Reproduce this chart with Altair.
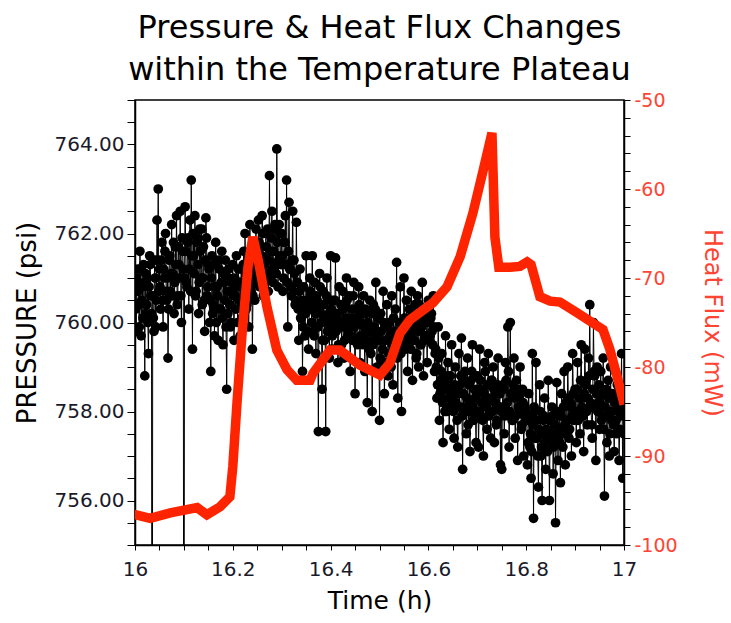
import altair as alt
import pandas as pd

# Pressure samples (psi), one every 0.0025 h from 16.000 h to 17.000 h
pressure = [
    # 16.00 - 16.0475
    760.9, 759.8, 761.2, 760.4, 761.6, 759.7, 760.8, 761.3, 758.8, 760.2,
    761.0, 759.3, 761.5, 760.6, 745.0, 760.1, 761.4, 759.9, 762.3, 763.0,
    # 16.05 - 16.0975
    761.2, 760.3, 761.8, 759.9, 761.0, 762.0, 760.5, 759.2, 761.4, 760.7,
    762.2, 761.1, 760.2, 761.7, 762.4, 760.6, 761.3, 762.5, 760.0, 761.6,
    # 16.10 - 16.1475
    745.0, 762.6, 760.9, 761.8, 760.3, 762.3, 763.2, 759.4, 761.5, 762.4,
    760.7, 761.9, 760.2, 762.1, 761.0, 760.4, 761.7, 759.8, 762.35, 760.6,
    # 16.15 - 16.1975
    761.3, 760.0, 758.9, 761.5, 760.4, 759.7, 761.8, 760.8, 759.6, 761.2,
    760.3, 761.6, 759.5, 760.9, 761.4, 758.5, 760.2, 761.0, 759.9, 760.7,
    # 16.20 - 16.2475
    761.3, 759.6, 760.6, 761.5, 760.0, 760.9, 759.7, 761.2, 760.4, 761.6,
    762.0, 760.3, 761.1, 759.9, 762.2, 760.7, 759.4, 761.8, 760.5, 762.1,
    # 16.25 - 16.2975
    761.0, 762.3, 760.8, 761.7, 762.4, 760.6, 761.4, 762.0, 761.1, 760.7,
    763.3, 761.6, 762.5, 760.9, 762.1, 761.3, 763.9, 760.8, 762.2, 761.5,
    # 16.30 - 16.3475
    762.0, 760.7, 761.8, 762.4, 763.2, 759.9, 762.7, 761.2, 760.6, 762.5,
    761.4, 760.4, 762.25, 760.9, 759.6, 761.2, 760.1, 758.9, 760.8, 759.7,
    # 16.35 - 16.3975
    761.5, 760.3, 759.4, 761.0, 760.6, 761.5, 759.8, 760.9, 759.3, 760.5,
    757.55, 761.1, 760.2, 758.5, 760.7, 759.6, 757.55, 761.0, 760.0, 759.2,
    # 16.40 - 16.4475
    761.5, 759.4, 760.5, 759.9, 761.45, 760.2, 759.1, 760.8, 760.0, 759.5,
    760.7, 759.2, 760.4, 761.0, 759.7, 760.6, 758.9, 760.1, 759.6, 760.9,
    # 16.45 - 16.4975
    758.4, 760.3, 759.5, 760.8, 759.1, 760.0, 759.7, 760.6, 758.9, 760.2,
    758.2, 759.8, 760.5, 759.3, 758.0, 760.4, 759.6, 760.9, 759.0, 760.1,
    # 16.50 - 16.5475
    757.8, 760.2, 759.1, 760.7, 758.4, 759.6, 760.4, 758.8, 760.0, 759.3,
    760.6, 758.6, 759.8, 760.3, 761.35, 758.3, 759.5, 760.8, 758.0, 759.9,
    # 16.55 - 16.5975
    761.0, 759.4, 760.5, 758.9, 760.1, 759.6, 760.7, 758.7, 759.8, 760.4,
    759.2, 760.6, 759.0, 760.2, 759.5, 760.9, 758.8, 759.7, 760.3, 759.1,
    # 16.60 - 16.6475
    760.5, 759.6, 760.1, 759.8, 760.6, 758.9, 759.4, 758.3, 759.9, 757.8,
    758.7, 759.3, 757.3, 758.5, 759.7, 758.0, 759.1, 757.6, 758.8, 759.5,
    # 16.65 - 16.6975
    758.2, 757.4, 759.0, 758.4, 757.2, 759.3, 758.6, 759.65, 756.7, 758.1,
    758.9, 757.5, 759.2, 758.0, 757.1, 758.7, 759.5, 757.8, 758.3, 757.3,
    # 16.70 - 16.7475
    758.8, 757.2, 759.4, 757.9, 758.5, 757.0, 759.1, 758.2, 757.6, 759.3,
    758.0, 757.4, 758.7, 759.0, 757.3, 758.4, 757.8, 759.2, 758.1, 756.8,
    # 16.75 - 16.7975
    756.7, 758.6, 757.5, 759.1, 758.0, 759.9, 757.2, 760.0, 758.4, 757.8,
    759.2, 757.4, 758.7, 756.9, 758.3, 759.0, 757.6, 758.5, 757.0, 758.1,
    # 16.80 - 16.8475
    757.9, 756.8, 758.4, 757.2, 756.5, 759.3, 755.6, 758.0, 759.1, 757.4,
    756.3, 758.6, 757.0, 756.0, 757.8, 758.3, 756.7, 757.5, 758.7, 756.0,
    # 16.85 - 16.8975
    757.3, 758.1, 756.6, 757.7, 755.5, 758.65, 756.9, 757.9, 756.4, 758.4,
    757.2, 758.9, 756.8, 757.6, 759.0, 757.4, 758.2, 757.0, 759.3, 757.8,
    # 16.90 - 16.9475
    758.5, 757.3, 759.1, 758.0, 757.5, 759.5, 758.3, 757.1, 759.4, 758.7,
    757.7, 759.2, 760.4, 758.1, 757.4, 760.0, 758.8, 756.9, 759.0, 758.2,
    # 16.95 - 16.9975
    757.6, 758.9, 757.9, 759.2, 756.1, 758.4, 757.3, 758.7, 757.0, 759.0,
    757.8, 758.3, 757.1, 758.9, 757.5, 758.1, 756.9, 758.6, 759.3, 756.5,
    # 17.00
    757.5,
]
p_start = 16.0
p_step = 0.0025

# Interleaved pressure samples (psi), one every 0.0025 h from 16.00125 h
pressure_mid = [
    760.3, 761.0, 760.7, 759.9, 761.2, 760.5, 760.1, 760.9, 761.1, 760.4,
    760.0, 760.8, 761.3, 760.2, 760.6, 759.8, 761.0, 760.5, 761.4, 760.7,
    760.8, 761.4, 760.5, 761.2, 761.6, 760.7, 761.0, 760.3, 761.5, 761.1,
    760.6, 761.8, 760.9, 761.3, 760.4, 761.7, 761.0, 760.6, 761.9, 761.2,
    761.0, 761.6, 760.8, 761.9, 761.2, 760.7, 761.5, 762.0, 761.1, 760.6,
    761.8, 761.3, 760.9, 761.6, 762.1, 761.0, 760.5, 761.4, 761.9, 760.8,
    761.2, 760.5, 761.0, 760.2, 761.3, 760.8, 760.0, 760.6, 761.4, 760.3,
    760.9, 760.1, 761.1, 760.5, 759.9, 760.7, 761.2, 760.4, 760.0, 760.9,
    760.6, 761.0, 760.3, 760.8, 761.2, 760.5, 760.9, 760.1, 761.3, 760.7,
    761.1, 760.4, 761.5, 760.8, 761.0, 761.6, 760.6, 761.2, 761.7, 760.9,
    761.2, 761.8, 761.0, 761.5, 762.0, 761.3, 760.9, 761.7, 762.1, 761.4,
    761.0, 761.9, 761.2, 761.6, 762.2, 761.1, 761.8, 761.4, 762.0, 761.3,
    761.5, 761.0, 761.8, 761.3, 760.9, 761.6, 761.2, 760.8, 761.4, 760.7,
    761.1, 760.5, 760.9, 760.3, 760.7, 760.1, 760.5, 759.9, 760.4, 760.2,
    760.5, 759.8, 760.3, 760.7, 760.0, 760.4, 759.7, 760.2, 760.6, 759.9,
    760.3, 760.8, 760.0, 759.6, 760.4, 760.1, 760.6, 759.8, 760.2, 760.5,
    760.3, 759.7, 760.1, 760.5, 759.8, 760.2, 759.5, 760.0, 760.4, 759.9,
    760.3, 759.6, 760.1, 760.5, 759.8, 760.0, 759.7, 760.3, 760.6, 759.9,
    760.1, 759.6, 760.0, 760.4, 759.7, 760.2, 759.5, 759.9, 760.3, 759.6,
    760.0, 759.4, 759.8, 760.2, 759.5, 759.9, 760.3, 759.7, 760.1, 759.6,
    759.2, 759.8, 759.4, 760.0, 759.1, 759.6, 759.9, 759.3, 759.7, 759.0,
    759.5, 760.1, 759.4, 759.8, 759.2, 759.6, 760.0, 759.3, 759.7, 759.5,
    760.1, 759.5, 760.0, 759.7, 760.3, 759.4, 759.9, 760.2, 759.6, 760.0,
    759.3, 759.8, 760.4, 759.5, 759.9, 760.1, 759.6, 760.2, 759.7, 760.0,
    760.0, 759.7, 760.2, 759.5, 759.9, 759.3, 759.0, 758.6, 759.2, 758.4,
    758.9, 758.2, 758.7, 758.0, 758.5, 758.8, 758.3, 758.1, 758.6, 758.4,
    758.0, 758.6, 758.2, 757.8, 758.5, 758.1, 758.8, 757.9, 758.4, 758.7,
    758.0, 758.3, 757.7, 758.6, 758.2, 758.9, 758.1, 758.5, 757.9, 758.4,
    758.5, 758.0, 758.7, 758.2, 757.8, 758.4, 758.9, 758.1, 758.6, 757.9,
    758.3, 758.7, 758.0, 758.5, 758.2, 757.7, 758.6, 758.1, 758.4, 758.0,
    758.1, 758.5, 757.9, 758.7, 758.2, 758.9, 758.0, 758.4, 757.8, 758.6,
    758.3, 757.9, 758.5, 758.1, 758.0, 758.4, 757.7, 758.2, 757.9, 758.0,
    757.8, 757.3, 757.9, 757.5, 757.1, 757.7, 758.1, 757.4, 757.8, 757.0,
    757.6, 758.0, 757.2, 757.5, 757.9, 757.3, 757.6, 757.1, 757.8, 757.4,
    757.5, 757.9, 757.2, 757.7, 757.4, 758.0, 757.6, 757.3, 757.9, 757.5,
    758.1, 757.7, 758.2, 757.8, 758.3, 757.6, 758.1, 757.9, 758.4, 758.0,
    758.0, 758.5, 757.8, 758.3, 758.7, 758.1, 757.9, 758.4, 758.6, 758.0,
    758.3, 758.8, 758.2, 757.7, 758.5, 758.9, 758.1, 758.4, 758.0, 758.6,
    758.2, 757.8, 758.4, 757.6, 758.1, 758.5, 757.9, 758.3, 757.5, 758.0,
    758.4, 757.7, 758.2, 757.8, 758.6, 758.0, 757.6, 758.3, 757.9, 758.1,
]
pm_start = 16.00125

p_time = [round(p_start + p_step * i, 5) for i in range(len(pressure))]
pm_time = [round(pm_start + p_step * i, 5) for i in range(len(pressure_mid))]

# Heat flux (mW)
flux_time = [
    16.000, 16.031, 16.072, 16.127, 16.147, 16.174, 16.194, 16.200, 16.209,
    16.219, 16.231, 16.241, 16.252, 16.270, 16.290, 16.311, 16.331, 16.358,
    16.364, 16.399, 16.419, 16.460, 16.501, 16.521, 16.542, 16.562, 16.609,
    16.638, 16.665, 16.691, 16.712, 16.730, 16.736, 16.744, 16.767, 16.787,
    16.802, 16.810, 16.828, 16.849, 16.869, 16.904, 16.957, 16.971, 16.986,
    16.998,
]
flux = [
    -96.6, -97.0, -96.4, -95.8, -96.6, -95.7, -94.6, -91.2, -83.7,
    -76.2, -68.8, -65.4, -68.0, -73.3, -78.1, -80.3, -81.5, -81.5,
    -80.7, -78.1, -78.1, -79.8, -80.9, -79.6, -76.2, -74.7, -72.8,
    -71.0, -67.6, -62.7, -57.9, -53.7, -65.4, -68.8, -68.8, -68.7,
    -68.2, -68.5, -72.1, -72.6, -72.7, -73.9, -75.8, -78.0, -81.1,
    -83.7,
]

x_ticks = [round(16 + 0.05 * i, 2) for i in range(21)]
p_ticks = [755 + 0.5 * i for i in range(21)]
f_ticks = [-100 + 2 * i for i in range(26)]

dfp = (
    pd.concat(
        [
            pd.DataFrame({"t": p_time, "p": pressure}),
            pd.DataFrame({"t": pm_time, "p": pressure_mid}),
        ]
    )
    .sort_values("t")
    .reset_index(drop=True)
)
dff = pd.DataFrame({"t": flux_time, "f": flux})

FONT = "DejaVu Sans"
RED = "#FF2400"
LABEL_RED = "#FF4433"

x_enc = alt.X(
    "t:Q",
    scale=alt.Scale(domain=[16, 17], nice=False, zero=False),
    axis=alt.Axis(
        title="Time (h)",
        values=x_ticks,
        labelExpr="abs(datum.value*5 - round(datum.value*5)) < 0.001 ? toString(round(datum.value*10)/10) : ''",
        tickSize=5,
        labelPadding=9,
        titlePadding=9,
        titleFontSize=25,
        labelFontSize=20,
        labelFlush=False,
        labelOverlap=False,
        grid=False,
    ),
)

y_p = alt.Y(
    "p:Q",
    scale=alt.Scale(domain=[755, 765], nice=False, zero=False),
    axis=alt.Axis(
        title="PRESSURE (psi)",
        values=p_ticks,
        labelExpr="datum.value % 2 == 0 ? format(datum.value, '.2f') : ''",
        tickSize=8,
        labelPadding=3,
        titlePadding=14,
        titleFontSize=26,
        labelFontSize=20,
        labelFlush=False,
        labelOverlap=False,
        grid=False,
    ),
)

press_line = alt.Chart(dfp).mark_line(color="black", strokeWidth=1, clip=True).encode(
    x=x_enc, y=y_p
)
press_pts = alt.Chart(dfp).mark_circle(color="black", size=95, opacity=1, clip=True).encode(
    x=x_enc, y=y_p
)

flux_line = alt.Chart(dff).mark_line(
    color=RED, strokeWidth=9.5, clip=True, strokeJoin="miter", strokeCap="square"
).encode(
    x=x_enc,
    y=alt.Y(
        "f:Q",
        scale=alt.Scale(domain=[-100, -50], nice=False, zero=False),
        axis=alt.Axis(
            orient="right",
            title="Heat Flux (mW)",
            values=f_ticks,
            labelExpr="datum.value % 10 == 0 ? toString(datum.value) : ''",
            tickSize=6,
            labelPadding=4,
            titlePadding=22,
            titleFontSize=24,
            labelFontSize=19,
            labelColor=LABEL_RED,
            titleColor=LABEL_RED,
            labelFlush=False,
            labelOverlap=False,
            grid=False,
        ),
    ),
)

chart = (
    alt.layer(alt.layer(press_line, press_pts), flux_line)
    .resolve_scale(y="independent")
    .properties(
        width=489,
        height=445,
        title=alt.TitleParams(
            ["Pressure & Heat Flux Changes", "within the Temperature Plateau"],
            fontSize=32,
            font=FONT,
            fontWeight="normal",
            color="black",
            anchor="middle",
            offset=3,
            lineHeight=42,
        ),
        autosize=alt.AutoSizeParams(type="none"),
        padding={"left": 135, "top": 100, "right": 107, "bottom": 78},
    )
    .configure_view(stroke="black", strokeWidth=1.5)
    .configure_axis(
        labelFont=FONT,
        titleFont=FONT,
        titleFontWeight="normal",
        labelColor="#1a1a2a",
        titleColor="black",
        domainColor="black",
        domainWidth=1.5,
        tickColor="black",
        tickWidth=1,
    )
)

chart.save("out.html", embed_options={"renderer": "svg", "actions": False})
